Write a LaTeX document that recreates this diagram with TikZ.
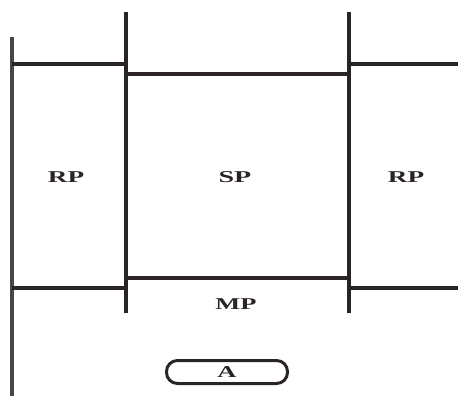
\documentclass[tikz,border=0pt]{standalone}
\usepackage{fontspec}
\setmainfont{Liberation Serif}
\definecolor{ink}{HTML}{2A2424}
\definecolor{inkgray}{HTML}{4A4646}
\begin{document}
\begin{tikzpicture}[x=1pt,y=-1pt,
  wall/.style={draw=ink,line width=4.6pt},
  thinwall/.style={draw=ink,line width=3.8pt},
  leftwall/.style={draw=inkgray,line width=3.4pt},
  lbl/.style={font=\fontsize{16.5}{16.5}\selectfont\bfseries,text=ink,inner sep=0pt},
  pill/.style={draw=ink,line width=3pt,rounded corners=11pt,minimum width=121pt,minimum height=23pt,inner sep=0pt}]
\useasboundingbox (0,0) rectangle (458,396);
% coordinates
\coordinate (L0) at (12,37);
\coordinate (L1) at (12,396);
\coordinate (V1t) at (126,12);
\coordinate (V1b) at (126,313);
\coordinate (V2t) at (349,12);
\coordinate (V2b) at (349,313);
% walls
\draw[leftwall] (L0) -- (L1);
\draw[wall] (V1t) -- (V1b);
\draw[wall] (V2t) -- (V2b);
\draw[wall] (12,64) -- (126,64);
\draw[wall] (349,64) -- (458,64);
\draw[thinwall] (126,74) -- (349,74);
\draw[thinwall] (126,278) -- (349,278);
\draw[thinwall] (12,288) -- (126,288);
\draw[thinwall] (349,288) -- (458,288);
% labels
\node[lbl] (rp1) at (66,177) {\scalebox{1.65}[1]{RP}};
\node[lbl] (sp) at (235,177) {\scalebox{1.7}[1]{SP}};
\node[lbl] (rp2) at (406,177) {\scalebox{1.65}[1]{RP}};
\node[lbl] (mp) at (236,304) {\scalebox{1.6}[1]{MP}};
\node[pill] (abox) at (227,372) {};
\node[lbl] (a) at (227,372) {\scalebox{1.6}[1]{A}};
\end{tikzpicture}
\end{document}
